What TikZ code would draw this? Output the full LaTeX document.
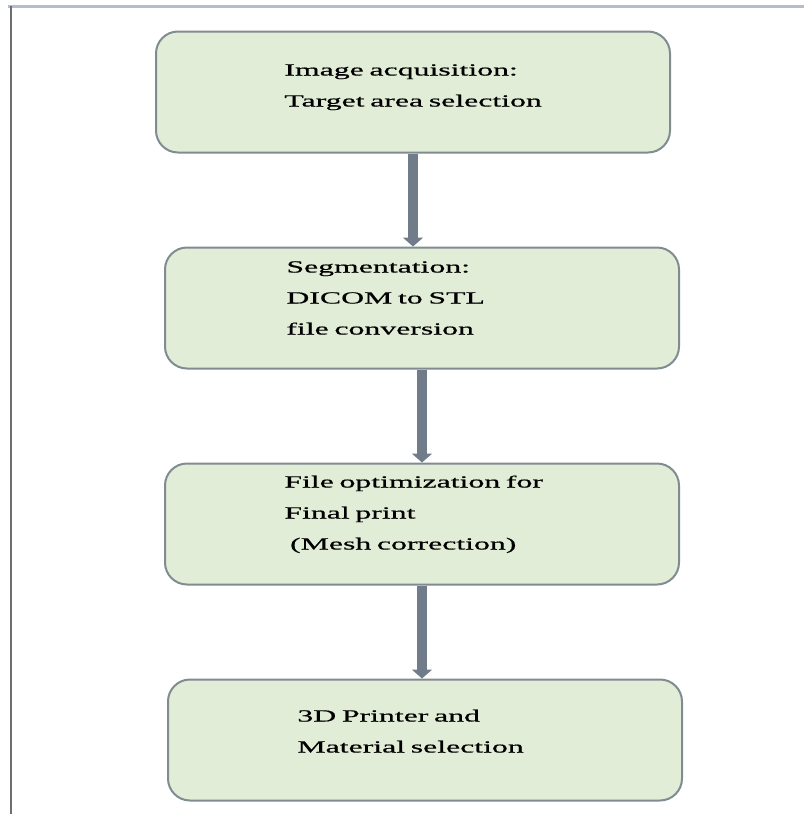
\documentclass[tikz,border=0pt]{standalone}
\usepackage{fontspec}
\setmainfont[FakeStretch=1.87, FakeBold=0.6]{Liberation Serif}
\usetikzlibrary{positioning, calc, arrows.meta}

\definecolor{boxfill}{RGB}{226,237,215}
\definecolor{boxline}{RGB}{128,140,145}
\definecolor{flowgray}{RGB}{112,124,138}
\definecolor{frametop}{RGB}{176,190,205}
\definecolor{frameleft}{RGB}{110,110,110}

\begin{document}
\begin{tikzpicture}[x=0.5pt, y=-0.5pt, >=stealth,
    stepbox/.style={draw=boxline, line width=1pt, fill=boxfill, rounded corners=11pt,
        minimum width=257pt, minimum height=60.5pt, inner sep=0pt},
    steptext/.style={anchor=base west, align=left, text width=200pt, inner sep=0pt,
        font=\fontsize{8.5}{15.5}\selectfont},
    flow/.style={draw=flowgray, line width=5pt, -{Triangle[width=10pt, length=4.5pt]}}]
    \useasboundingbox (0,0) rectangle (804,814);

    % Page frame
    \draw[frametop, line width=1.5pt] (8,6) -- (804,6);
    \draw[frameleft, line width=1pt] (11,6) -- (11,814);

    % Step boxes
    \node[stepbox] (b1) at (413,92) {};
    \node[stepbox, below=46.5pt of b1, xshift=4.5pt] (b2) {};
    \node[stepbox, below=46.5pt of b2] (b3) {};
    \node[stepbox, below=46.5pt of b3, xshift=1.5pt] (b4) {};

    % Box texts
    \node[steptext] (t1) at ($(b1.north west)+(129,45)$) {Image acquisition:\\Target area selection};
    \node[steptext] (t2) at ($(b2.north west)+(122,26)$) {Segmentation:\\DICOM to STL\\file conversion};
    \node[steptext] (t3) at ($(b3.north west)+(120,25)$) {File optimization for\\Final print\\\ (Mesh correction)};
    \node[steptext] (t4) at ($(b4.north west)+(130,43)$) {3D Printer and\\Material selection};

    % Flow arrows
    \draw[flow] (b1.south) -- (b1.south |- b2.north);
    \draw[flow] (b2.south) -- (b2.south |- b3.north);
    \draw[flow] (b3.south) -- (b3.south |- b4.north);
\end{tikzpicture}
\end{document}
